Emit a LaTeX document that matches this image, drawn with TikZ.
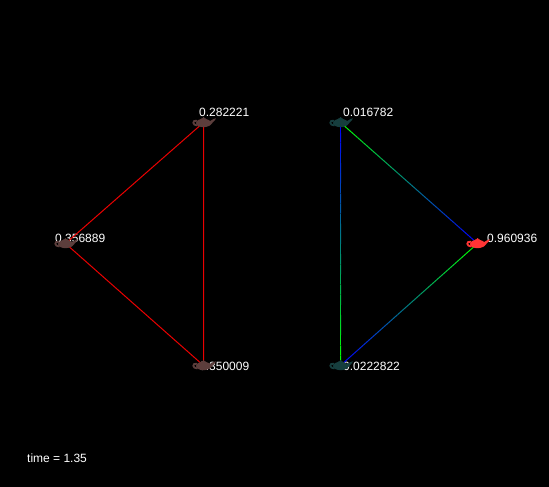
\documentclass[tikz,border=0pt]{standalone}
\usepackage{fontspec}
\setmainfont{Liberation Sans}
\usetikzlibrary{calc}
\definecolor{potbrown}{RGB}{92,62,60}
\definecolor{potteal}{RGB}{22,62,62}
\definecolor{potred}{RGB}{255,52,52}
\definecolor{edgered}{RGB}{235,0,0}
\definecolor{edgegreen}{RGB}{0,255,0}
\definecolor{edgeblue}{RGB}{0,0,255}
\tikzset{
  pics/teapot/.style={code={
    \fill[#1] (0,0.5) ellipse[x radius=7.5,y radius=4.2];
    \fill[#1] (0,-3) ellipse[x radius=3,y radius=1.5];
    \fill[#1] (0,-4.5) circle[radius=1];
    \fill[#1] (5,-0.5) -- (10,-3.5) -- (12.5,-4.2) -- (11.5,-2.5) -- (6,3.5) -- cycle;
    \draw[#1,line width=1.8pt] (-6.5,-1.8) .. controls (-11.5,-2.8) and (-11.5,3) .. (-6,3);
  }},
  val/.style={anchor=base west,inner sep=0pt,text=white,font=\fontsize{12}{14}\selectfont},
  link/.style={line width=1pt},
}
\newcommand\fadeedge[4]{%
  \foreach \k in {0,...,23}{%
    \pgfmathtruncatemacro\pc{100-\k*100/23}
    \draw[link,draw=#3!\pc!#4] ($(#1)!{\k/24}!(#2)$) -- ($(#1)!{(\k+1)/24}!(#2)$);
  }}

\begin{document}
\begin{tikzpicture}[x=1pt,y=-1pt]
  \fill[black] (0,0) rectangle (549,487);
  \useasboundingbox (0,0) rectangle (549,487);
  \coordinate (lt) at (203.5,122.5);
  \coordinate (ll) at (65.5,243.5);
  \coordinate (lb) at (203.5,365.5);
  \coordinate (rt) at (340.5,122.5);
  \coordinate (rr) at (477.5,243.5);
  \coordinate (rb) at (340.5,365.5);
  \node[val] (vlt) at (199,116) {0.282221};
  \node[val] (vll) at (55,242.5) {0.356889};
  \node[val] (vlb) at (199,370.5) {0.350009};
  \node[val] (vrt) at (343,116) {0.016782};
  \node[val] (vrr) at (487,242.5) {0.960936};
  \node[val] (vrb) at (343,370.5) {0.0222822};
  \node[val] (clock) at (27,462) {time = 1.35};
  \draw[link,edgered] (lt) -- (ll) -- (lb) -- cycle;
  \fadeedge{rt}{rr}{edgegreen}{edgeblue}
  \fadeedge{rt}{rb}{edgeblue}{edgegreen}
  \fadeedge{rb}{rr}{edgeblue}{edgegreen}
  \pic at (lt) {teapot=potbrown};
  \pic at (ll) {teapot=potbrown};
  \pic at (lb) {teapot=potbrown};
  \pic at (rt) {teapot=potteal};
  \pic at (rr) {teapot=potred};
  \pic at (rb) {teapot=potteal};
\end{tikzpicture}
\end{document}
